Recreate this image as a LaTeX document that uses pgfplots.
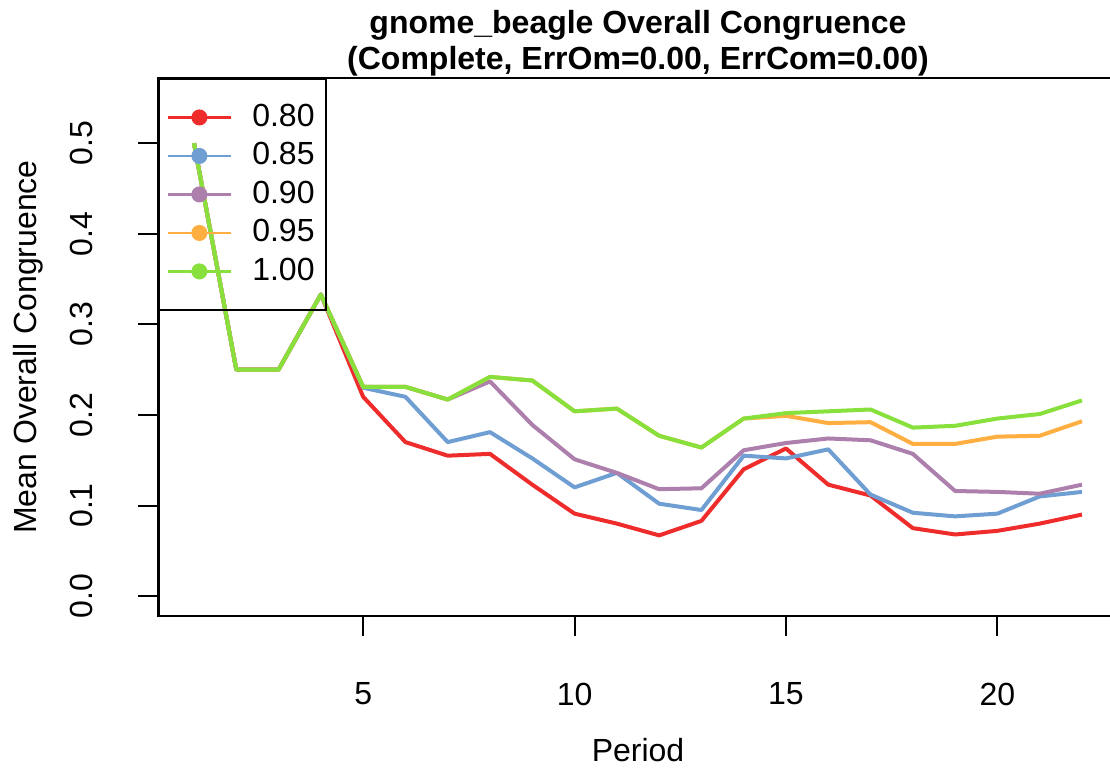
\documentclass[border=0pt]{standalone}
\usepackage{fontspec}
\setmainfont{Liberation Sans}
\usepackage{pgfplots}
\pgfplotsset{compat=1.18}
\definecolor{cA}{HTML}{EE2C2C}
\definecolor{cB}{HTML}{6F9FD2}
\definecolor{cC}{HTML}{AC7FAC}
\definecolor{cD}{HTML}{FFAE42}
\definecolor{cE}{HTML}{87E03B}
\pgfplotsset{
  dotline/.style={legend image code/.code={
    \path[draw=none, fill=none] (0pt,-9.625pt) rectangle (31.5pt,9.625pt);
    \draw[##1, line width=1.4pt] (0pt,0pt) -- (31.5pt,0pt);
    \fill[##1] (15.75pt,0pt) circle (3pt);}},
}
\begin{document}
\fontsize{16}{19}\selectfont
\begin{tikzpicture}
\begin{axis}[
  at={(79.25pt,75.5pt)}, anchor=south west,
  scale only axis, width=479.5pt, height=269pt,
  xmin=0.16, xmax=22.84, ymin=-0.022, ymax=0.572,
  xtick={5,10,15,20},
  ytick={0,0.1,0.2,0.3,0.4,0.5},
  yticklabels={\rotatebox{90}{0.0},\rotatebox{90}{0.1},\rotatebox{90}{0.2},\rotatebox{90}{0.3},\rotatebox{90}{0.4},\rotatebox{90}{0.5}},
  tick pos=left, tick align=outside, major tick length=10pt,
  every tick/.style={black, line width=1pt},
  axis line style={draw=none},
  after end axis/.code={
    \draw[line width=1.2pt, line cap=rect] (axis description cs:1,0) -- (axis description cs:0,0)
      -- (axis description cs:0,1) -- (axis description cs:1,1);},
  /pgf/number format/assume math mode=true,
  ticklabel style={font=\fontsize{16}{19}\selectfont},
  xticklabel style={anchor=center, yshift=-29pt},
  yticklabel style={anchor=center, xshift=-28.75pt},
  legend style={at={(0,1)}, anchor=north west, draw=black, line width=1pt, fill=none,
    inner xsep=3.5pt, inner ysep=9.6pt, row sep=0pt,
    font=\fontsize{16}{19}\selectfont,
    /tikz/column 1/.style={column sep=8pt}},
  legend cell align=left,
  every axis plot/.append style={line width=2pt, line join=round, dotline},
]
\addplot[cA] coordinates {(1,0.5) (2,0.25) (3,0.25) (4,0.333) (5,0.220) (6,0.170) (7,0.155) (8,0.157) (9,0.123) (10,0.091) (11,0.080) (12,0.067) (13,0.083) (14,0.140) (15,0.163) (16,0.123) (17,0.111) (18,0.075) (19,0.068) (20,0.072) (21,0.080) (22,0.090)};
\addlegendentry{0.80\hspace{6pt}}
\addplot[cB] coordinates {(1,0.5) (2,0.25) (3,0.25) (4,0.333) (5,0.230) (6,0.220) (7,0.170) (8,0.181) (9,0.152) (10,0.120) (11,0.136) (12,0.102) (13,0.095) (14,0.155) (15,0.152) (16,0.162) (17,0.112) (18,0.092) (19,0.088) (20,0.091) (21,0.110) (22,0.115)};
\addlegendentry{0.85\hspace{6pt}}
\addplot[cC] coordinates {(1,0.5) (2,0.25) (3,0.25) (4,0.333) (5,0.231) (6,0.231) (7,0.217) (8,0.237) (9,0.189) (10,0.151) (11,0.136) (12,0.118) (13,0.119) (14,0.161) (15,0.169) (16,0.174) (17,0.172) (18,0.157) (19,0.116) (20,0.115) (21,0.113) (22,0.123)};
\addlegendentry{0.90\hspace{6pt}}
\addplot[cD] coordinates {(1,0.5) (2,0.25) (3,0.25) (4,0.333) (5,0.231) (6,0.231) (7,0.217) (8,0.242) (9,0.238) (10,0.204) (11,0.207) (12,0.177) (13,0.164) (14,0.196) (15,0.199) (16,0.191) (17,0.192) (18,0.168) (19,0.168) (20,0.176) (21,0.177) (22,0.193)};
\addlegendentry{0.95\hspace{6pt}}
\addplot[cE] coordinates {(1,0.5) (2,0.25) (3,0.25) (4,0.333) (5,0.231) (6,0.231) (7,0.217) (8,0.242) (9,0.238) (10,0.204) (11,0.207) (12,0.177) (13,0.164) (14,0.196) (15,0.202) (16,0.204) (17,0.206) (18,0.186) (19,0.188) (20,0.196) (21,0.201) (22,0.216)};
\addlegendentry{1.00\hspace{6pt}}
\end{axis}
\node[font=\fontsize{16}{19}\selectfont\bfseries, anchor=base] at (319pt,366.5pt) {gnome\_beagle Overall Congruence};
\node[font=\fontsize{16}{19}\selectfont\bfseries, anchor=base] at (319pt,348.5pt) {(Complete, ErrOm=0.00, ErrCom=0.00)};
\node[anchor=center] at (319pt,8.5pt) {Period};
\node[anchor=base, rotate=90] at (18pt,210pt) {Mean Overall Congruence};
\pgfresetboundingbox
\useasboundingbox (0pt,0pt) rectangle (555pt,383.5pt);
\end{tikzpicture}
\end{document}
